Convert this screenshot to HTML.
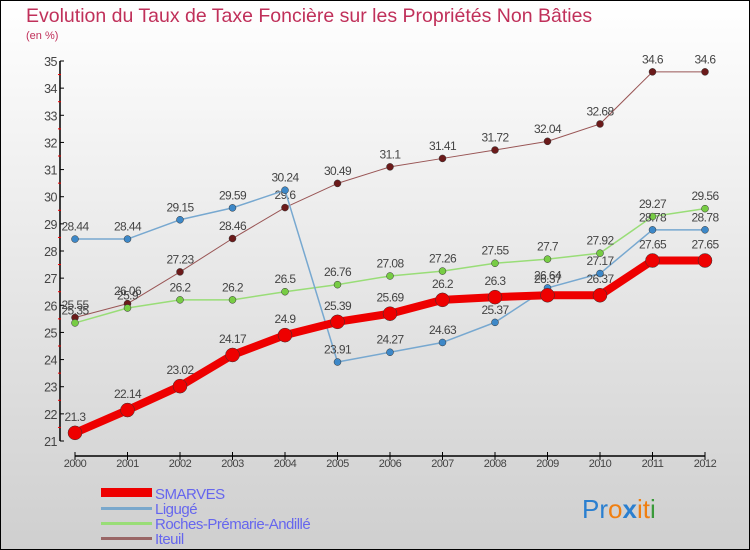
<!DOCTYPE html>
<html><head><meta charset="utf-8"><style>
body{margin:0;}
#c{position:relative;width:750px;height:550px;box-sizing:border-box;border:1px solid #000;background:linear-gradient(#ffffff,#cfcfcf);font-family:"Liberation Sans",sans-serif;overflow:hidden;}
</style></head><body>
<div id="c">
<svg id="s" width="750" height="550" style="position:absolute;left:-1px;top:-1px">
<text x="26" y="22" font-size="19.5" fill="#c0305a">Evolution du Taux de Taxe Foncière sur les Propriétés Non Bâties</text>
<text x="26" y="39" font-size="11" fill="#c0305a">(en %)</text>
<g id="axes"></g><g id="series"></g>
<g>
<rect x="101" y="488" width="51" height="9" fill="#e00"/>
<text x="155" y="499" font-size="15" fill="#6666ee" letter-spacing="-0.5">SMARVES</text>
<rect x="101" y="507" width="51" height="3" fill="#7aa8cc"/>
<text x="155" y="514" font-size="15" fill="#6666ee" letter-spacing="-0.5">Ligugé</text>
<rect x="101" y="522" width="51" height="3" fill="#99dd77"/>
<text x="155" y="529" font-size="15" fill="#6666ee" letter-spacing="-0.5">Roches-Prémarie-Andillé</text>
<rect x="101" y="537" width="51" height="3" fill="#996666"/>
<text x="155" y="544" font-size="15" fill="#6666ee" letter-spacing="-0.5">Iteuil</text>
</g>
<text x="582" y="518" font-size="26"><tspan fill="#2a7fd0">Pr</tspan><tspan fill="#f07f10">o</tspan><tspan fill="#2a7fd0" font-weight="bold">x</tspan><tspan fill="#f07f10">i</tspan><tspan fill="#f07f10">t</tspan><tspan fill="#3a9a3a">i</tspan></text>
</svg>
</div>
<script>
const years=[2000,2001,2002,2003,2004,2005,2006,2007,2008,2009,2010,2011,2012];
const smarves=[21.3,22.14,23.02,24.17,24.9,25.39,25.69,26.2,26.3,26.37,26.37,27.65,27.65];
const liguge=[28.44,28.44,29.15,29.59,30.24,23.91,24.27,24.63,25.37,26.64,27.17,28.78,28.78];
const roches=[25.35,25.9,26.2,26.2,26.5,26.76,27.08,27.26,27.55,27.7,27.92,29.27,29.56];
const iteuil=[25.55,26.06,27.23,28.46,29.6,30.49,31.1,31.41,31.72,32.04,32.68,34.6,34.6];
const yTicks=[21,22,23,24,25,26,27,28,29,30,31,32,33,34,35];
const NS="http://www.w3.org/2000/svg";
const xS=i=>75+i*52.5;
const yS=v=>441-(v-21)*(380/14);
function mk(t,a,p){const e=document.createElementNS(NS,t);for(const k in a)e.setAttribute(k,a[k]);p.appendChild(e);return e;}
const ax=document.getElementById('axes'),sg=document.getElementById('series');
let e=mk('line',{x1:60,y1:yS(35),x2:60,y2:yS(21),stroke:'#000','stroke-width':1.5},ax);


e=mk('line',{x1:75,y1:456,x2:705,y2:456,stroke:'#000','stroke-width':1.5},ax);


yTicks.forEach((v,i)=>{
 mk('line',{x1:60,y1:yS(v),x2:64,y2:yS(v),stroke:'#000'},ax);
 if(i<yTicks.length-1)mk('line',{x1:58,y1:yS(v+0.5),x2:61,y2:yS(v+0.5),stroke:'#e00'},ax);
 const t=mk('text',{x:57,y:yS(v)+5,'text-anchor':'end','font-size':12.5,fill:'#444','letter-spacing':'-0.5'},ax);
 t.textContent=v;
 
 
});
years.forEach((y,i)=>{
 mk('line',{x1:xS(i),y1:452,x2:xS(i),y2:460,stroke:'#000'},ax);
 const t=mk('text',{x:xS(i),y:467,'text-anchor':'middle','font-size':11,fill:'#444','letter-spacing':'-0.5'},ax);
 t.textContent=y;
 
 
});
function series(name,data,color,dot,w,r){
 const g=mk('g',{},sg);
 
 
 const p=mk('polyline',{points:data.map((v,i)=>xS(i)+','+yS(v)).join(' '),fill:'none',stroke:color,'stroke-width':w,'stroke-linejoin':'round'},g);
 
 
 data.forEach((v,i)=>{
  const c=mk('circle',{cx:xS(i),cy:yS(v),r:r,fill:dot,stroke:'#333','stroke-width':0.5},g);
  
  
  const t=mk('text',{x:xS(i),y:yS(v)-(r+5),'text-anchor':'middle','font-size':12,fill:'#444','letter-spacing':'-0.6'},g);
  t.textContent=v;
  
  
 });
}
series('iteuil',iteuil,'#995555','#6b1a1a',1,3.5);
series('roches',roches,'#99dd77','#77cc44',1.5,3.5);
series('liguge',liguge,'#77a8d0','#3d88c8',1.5,3.5);
series('smarves',smarves,'#ee0000','#ee0000',8,7);
</script>
</body></html>
